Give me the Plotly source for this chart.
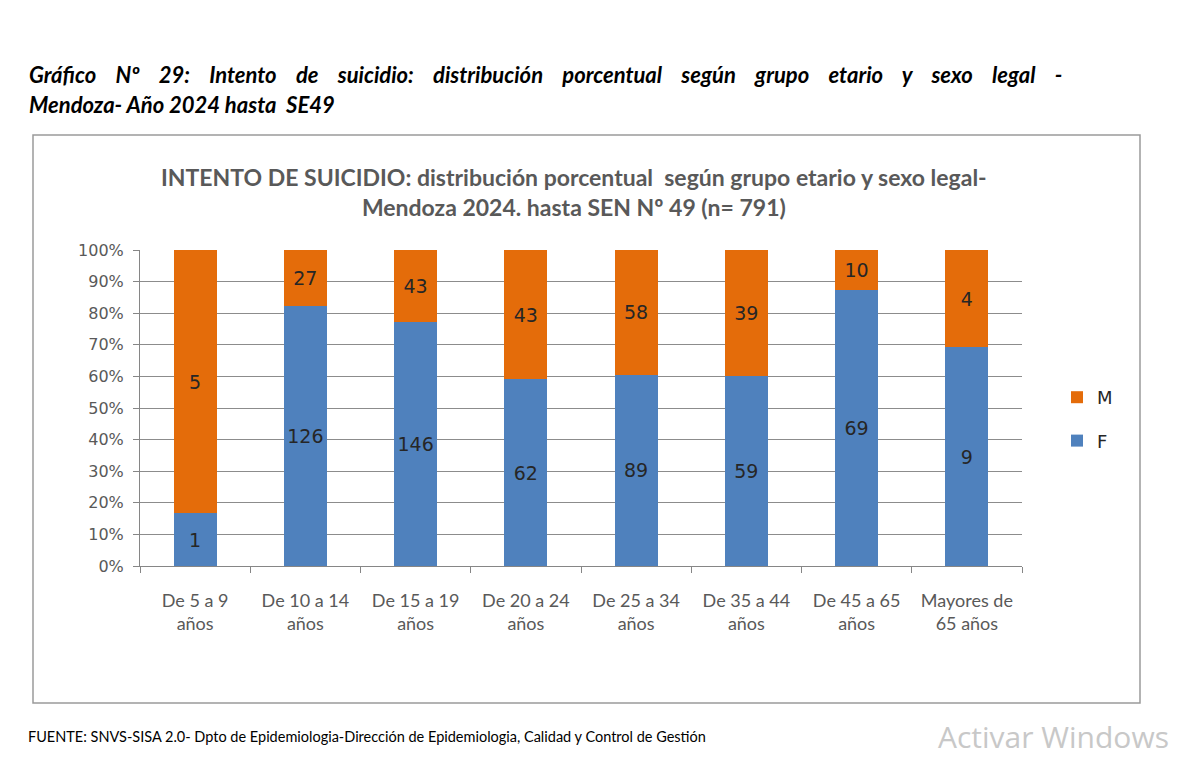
import plotly.graph_objects as go

categories = ["De 5 a 9<br>años", "De 10 a 14<br>años", "De 15 a 19<br>años", "De 20 a 24<br>años",
              "De 25 a 34<br>años", "De 35 a 44<br>años", "De 45 a 65<br>años", "Mayores de<br>65 años"]
f_values = [1, 126, 146, 62, 89, 59, 69, 9]
m_values = [5, 27, 43, 43, 58, 39, 10, 4]
y_ticks = [0, 10, 20, 30, 40, 50, 60, 70, 80, 90, 100]
y_tick_labels = [f"{v}%" for v in y_ticks]

BLUE = "#4F81BD"
ORANGE = "#E46C0A"
GRAY = "#595959"

OFF = 8  # page body margin
W, H = 1200 - OFF, 760 - OFF
L, R, T, B = 140 - OFF, 1022 - OFF, 250 - OFF, 566 - OFF


def px(x):
    return (x - OFF - L) / (R - L)


def py(y):
    return (B - (y - OFF)) / (B - T)


fig = go.Figure()
fig.add_trace(go.Bar(
    x=categories, y=f_values, name="F", marker_color=BLUE, marker_line_width=0,
    text=f_values, textposition="inside", insidetextanchor="middle",
    textfont=dict(family="DejaVu Sans", size=19, color="#262626"),
    legendgroup="F", legendrank=2,
))
fig.add_trace(go.Bar(
    x=categories, y=m_values, name="M", marker_color=ORANGE, marker_line_width=0,
    text=m_values, textposition="inside", insidetextanchor="middle",
    textfont=dict(family="DejaVu Sans", size=19, color="#262626"),
    legendgroup="M", legendrank=1,
))

fig.update_layout(
    barmode="stack", barnorm="percent", bargap=0.61,
    width=W, height=H,
    margin=dict(l=L, r=W - R, t=T, b=H - B, autoexpand=False),
    paper_bgcolor="white", plot_bgcolor="white",
    uniformtext=dict(mode="show", minsize=8),
    legend=dict(x=px(1057), y=py(379), xanchor="left", yanchor="top",
                font=dict(family="DejaVu Sans", size=18, color="#262626"),
                traceorder="grouped", tracegroupgap=17, itemwidth=30,
                bgcolor="rgba(0,0,0,0)"),
    xaxis=dict(showline=True, linecolor="#868686", linewidth=1,
               ticks="outside", tickson="boundaries", ticklen=6, tickcolor="#868686",
               ticklabelstandoff=18,
               tickfont=dict(family="Lato", size=18, color=GRAY), showgrid=False),
    yaxis=dict(range=[0, 100], tickmode="array", tickvals=y_ticks, ticktext=y_tick_labels,
               showline=True, linecolor="#868686", linewidth=1,
               ticks="outside", ticklen=6, tickcolor="#868686", ticklabelstandoff=6,
               showgrid=True, gridcolor="#8C8C8C", gridwidth=1,
               tickfont=dict(family="DejaVu Sans", size=16, color=GRAY),
               zeroline=False),
)

# chart border
fig.add_shape(type="rect", xref="paper", yref="paper",
              x0=px(33), x1=px(1140), y0=py(703), y1=py(135),
              line=dict(color="#9a9a9a", width=1.5), fillcolor="rgba(0,0,0,0)", layer="below")

# document title (spread like justified text)
sp = " &nbsp;&nbsp;&nbsp;"
line1 = sp.join("Gráfico Nº 29: Intento de suicidio: distribución porcentual según grupo etario y sexo legal -".split(" "))
fig.add_annotation(xref="paper", yref="paper", x=px(27), y=py(75), xanchor="left", yanchor="middle",
                   text=f"<b><i>{line1}</i></b>",
                   showarrow=False, font=dict(family="Lato", size=22, color="#000000"))
fig.add_annotation(xref="paper", yref="paper", x=px(27), y=py(104), xanchor="left", yanchor="middle",
                   text="<b><i>Mendoza- Año 2024 hasta  SE49</i></b>",
                   showarrow=False, font=dict(family="Lato", size=22, color="#000000"))

# chart title
fig.add_annotation(xref="paper", yref="paper", x=px(574), y=py(192), xanchor="center", yanchor="middle",
                   text="<b>INTENTO DE SUICIDIO: distribución porcentual  según grupo etario y sexo legal-<br>Mendoza 2024. hasta SEN Nº 49 (n= 791)</b>",
                   showarrow=False, align="center",
                   font=dict(family="Lato", size=23, color=GRAY))

# footer
fig.add_annotation(xref="paper", yref="paper", x=px(26), y=py(736), xanchor="left", yanchor="middle",
                   text="FUENTE: SNVS-SISA 2.0- Dpto de Epidemiologia-Dirección de Epidemiologia, Calidad y Control de Gestión",
                   showarrow=False, font=dict(family="Lato", size=14.5, color="#000000"))

# watermark
fig.add_annotation(xref="paper", yref="paper", x=px(936), y=py(759), xanchor="left", yanchor="bottom",
                   text="Activar Windows", showarrow=False,
                   font=dict(family="Open Sans", size=30, color="#C8C8C8"))

fig.write_html("out.html")
